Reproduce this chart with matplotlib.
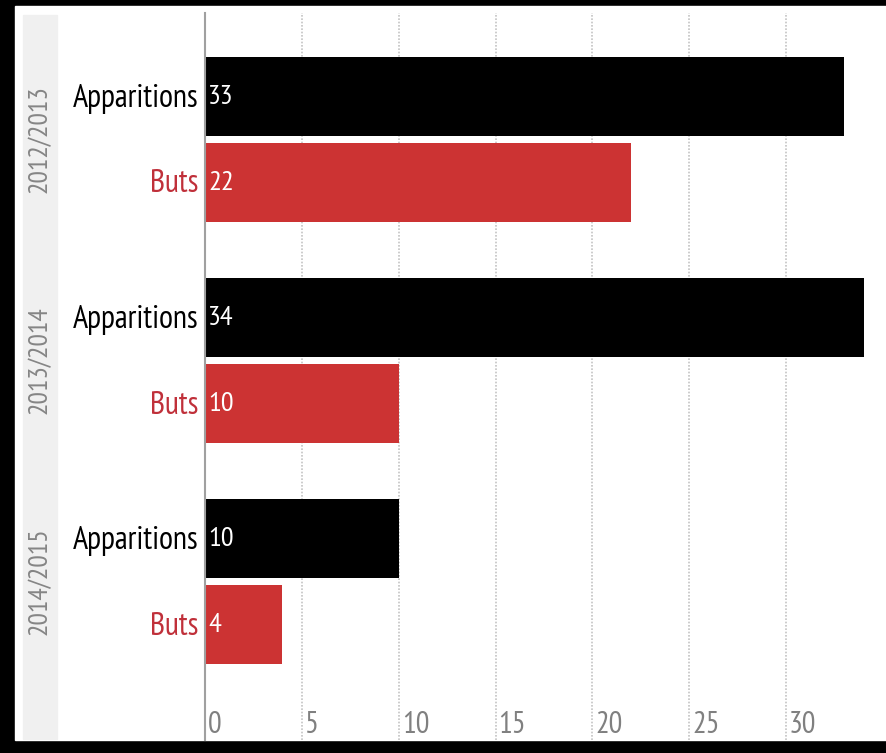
import matplotlib.pyplot as plt
from matplotlib import transforms
from matplotlib.patches import Rectangle

# ==============================
# Data
# ==============================
seasons = ["2012/2013", "2013/2014", "2014/2015"]
metrics = ["Apparitions", "Buts"]
apparitions = [33, 34, 10]
buts = [22, 10, 4]
ticks = [0, 5, 10, 15, 20, 25, 30]

colors = {"Apparitions": "#000000", "Buts": "#cc3333"}
label_colors = {"Apparitions": "#000000", "Buts": "#c0303a"}

plt.rcParams['font.family'] = ['PT Sans Narrow', 'DejaVu Sans']

W, H = 886, 753
fig = plt.figure(figsize=(W / 100, H / 100), dpi=100, facecolor="black")

# white card and grey season strip (behind the axes)
fig.patches.append(Rectangle((15 / W, 1 - 740 / H), (W - 15) / W, 734 / H,
                             transform=fig.transFigure, color="white", zorder=-2))
fig.patches.append(Rectangle((23 / W, 1 - 739 / H), 34 / W, 724 / H,
                             transform=fig.transFigure, color="#f0f0f0", zorder=-1))

ax = fig.add_axes([205 / W, 1 - 740 / H, (W - 205) / W, 727 / H])
ax.set_facecolor("none")

# ==============================
# Bars
# ==============================
group_step = 2.57
bar_h = 0.92
values = {"Apparitions": apparitions, "Buts": buts}
centers = []
for g, season in enumerate(seasons):
    for r, m in enumerate(metrics):
        y = g * group_step + r
        v = values[m][g]
        ax.barh(y, v, height=bar_h, color=colors[m], zorder=3)
        ax.annotate(m, xy=(0, y), xytext=(-7, -2), textcoords="offset pixels",
                    ha="right", va="center", fontsize=23, color=label_colors[m],
                    annotation_clip=False)
        ax.annotate(str(v), xy=(0, y), xytext=(3, 0), textcoords="offset pixels",
                    ha="left", va="center", fontsize=20.5, color="white", zorder=4)
    centers.append(g * group_step + 0.5)

unit_px = 19.37
ax.set_xlim(0, (W - 205) / unit_px)
top = -83.5 / 86
ax.set_ylim(top + 727 / 86, top)

# season labels in the grey strip
blend = transforms.blended_transform_factory(fig.transFigure, ax.transData)
for season, c in zip(seasons, centers):
    ax.text(40 / W, c, season, transform=blend, rotation=90, ha="center",
            va="center", fontsize=20, color="#858585")

# ==============================
# Axis styling
# ==============================
for s in ["top", "right", "bottom"]:
    ax.spines[s].set_visible(False)
ax.spines["left"].set_color("#a0a0a0")
ax.spines["left"].set_linewidth(1.5)
ax.spines["left"].set_zorder(5)
ax.set_yticks([])
ax.set_xticks(ticks[1:])
ax.tick_params(axis="x", length=0, labelbottom=False)
ax.grid(axis="x", color="#c4c4c4", linestyle=(0, (1, 1)), linewidth=1.2, zorder=0)

xblend = transforms.blended_transform_factory(ax.transData, ax.transAxes)
for t in ticks:
    ax.annotate(str(t), xy=(t, 0), xycoords=xblend, xytext=(3, 1),
                textcoords="offset pixels", ha="left", va="bottom",
                fontsize=22, color="#808080")

fig.savefig("out.png", dpi=100, facecolor=fig.get_facecolor())
